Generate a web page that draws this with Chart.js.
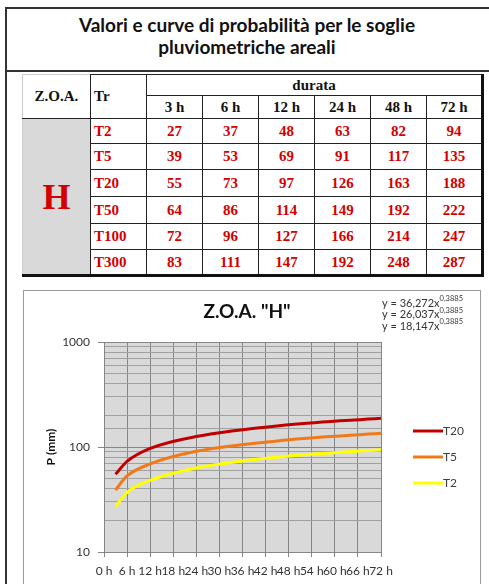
<!DOCTYPE html>
<html>
<head>
<meta charset="utf-8">
<script src="https://cdn.jsdelivr.net/npm/chart.js@4.4.0/dist/chart.umd.min.js"></script>
<style>
  html, body { margin: 0; padding: 0; background: #fff; }
  body { width: 489px; height: 584px; overflow: hidden; position: relative; font-family: Lato, "Noto Sans", sans-serif; }
  .frame { position: absolute; left: 5px; top: 7px; width: 484px; height: 620px; border-left: 2px solid #333; border-top: 2px solid #333; box-sizing: border-box; }
  .rule { position: absolute; left: 5px; top: 70px; width: 484px; height: 2px; background: #333; }
  .title { position: absolute; left: 5px; top: 14px; width: 484px; text-align: center; font-weight: bold; font-size: 19px; line-height: 22px; color: #111; }
  table { position: absolute; left: 22px; top: 74px; border-collapse: collapse; table-layout: fixed; width: 460px;
          font-family: "Liberation Serif", "DejaVu Serif", serif; font-weight: bold; font-size: 15px;
          border-right: 3px solid #111; border-bottom: 3px solid #111; }
  td { border: 1px solid #222; padding: 0; text-align: center; color: #d40000; }
  td.head { color: #111; }
  td.zoa { color: #111; border-left: 1px solid #ccc; border-top: 1px solid #ccc; }
  td.tr { text-align: left; padding-left: 3px; }
  td.trh { text-align: left; padding-left: 3px; vertical-align: middle; color: #111; }
  td.h { background: #d9d9d9; font-size: 36px; border-left: 1px solid #ccc; }
  .chartBox { position: absolute; left: 23px; top: 290px; width: 456px; height: 310px; border: 1px solid #9a9a9a; background: #fff; }
  canvas { display: block; }
</style>
</head>
<body>
<div class="frame"></div>
<div class="rule"></div>
<div class="title">Valori e curve di probabilità per le soglie<br>pluviometriche areali</div>
<table id="tab"></table>
<div class="chartBox"><canvas id="myChart" width="456" height="300"></canvas></div>
<script>
// table data
const zone = 'H';
const durations = ['3 h', '6 h', '12 h', '24 h', '48 h', '72 h'];
const hours = [3, 6, 12, 24, 48, 72];
const returnPeriods = ['T2', 'T5', 'T20', 'T50', 'T100', 'T300'];
const valuesT2 = [27, 37, 48, 63, 82, 94];
const valuesT5 = [39, 53, 69, 91, 117, 135];
const valuesT20 = [55, 73, 97, 126, 163, 188];
const valuesT50 = [64, 86, 114, 149, 192, 222];
const valuesT100 = [72, 96, 127, 166, 214, 247];
const valuesT300 = [83, 111, 147, 192, 248, 287];
const tableRows = [valuesT2, valuesT5, valuesT20, valuesT50, valuesT100, valuesT300];

// chart data
const yTicks = [10, 100, 1000];
const xStep = 6;
const xMax = 72;
const curveLabels = ['T20', 'T5', 'T2'];
const curveValues = [valuesT20, valuesT5, valuesT2];
const curveColors = ['#c00000', '#f07a1a', '#ffff00'];
const equationCoefs = ['36,272', '26,037', '18,147'];
const equationExp = '0,3885';

// build table
const tab = document.getElementById('tab');
const colW = [68, 56, 56, 56, 56, 56, 56, 56];
const rowH = [21, 23, 25, 26, 27, 27, 26, 26];
let html = '<colgroup>' + colW.map(w => `<col style="width:${w}px">`).join('') + '</colgroup>';
html += `<tr style="height:${rowH[0]}px"><td class="head zoa" rowspan="2">Z.O.A.</td><td class="trh" rowspan="2">Tr</td><td class="head" colspan="6">durata</td></tr>`;
html += `<tr style="height:${rowH[1]}px">` + durations.map(d => `<td class="head">${d}</td>`).join('') + '</tr>';
tableRows.forEach((row, i) => {
  html += `<tr style="height:${rowH[i + 2]}px">`;
  if (i === 0) html += `<td class="h" rowspan="6">${zone}</td>`;
  html += `<td class="tr">${returnPeriods[i]}</td>` + row.map(v => `<td>${v}</td>`).join('') + '</tr>';
});
tab.innerHTML = html;

const FONT = 'Lato, "Noto Sans", sans-serif';

const decorations = {
  id: 'decorations',
  beforeDraw(chart) {
    const { ctx, chartArea: a } = chart;
    ctx.save();
    ctx.fillStyle = '#d9d9d9';
    ctx.fillRect(a.left, a.top, a.right - a.left, a.bottom - a.top);
    ctx.restore();
  },
  afterDraw(chart) {
    const { ctx } = chart;
    ctx.save();
    // title
    ctx.fillStyle = '#111';
    ctx.font = 'bold 19px ' + FONT;
    ctx.textAlign = 'center';
    ctx.textBaseline = 'middle';
    ctx.fillText('Z.O.A. "' + zone + '"', 223, 21);
    // trendline equations
    ctx.textAlign = 'left';
    equationCoefs.forEach((c, i) => {
      const y = 12 + i * 11.5;
      ctx.font = '11px ' + FONT;
      ctx.fillStyle = '#333';
      const t = 'y = ' + c + 'x';
      ctx.fillText(t, 358, y);
      const w = ctx.measureText(t).width;
      ctx.font = '7.5px ' + FONT;
      ctx.fillText(equationExp, 358 + w, y - 4);
    });
    // legend
    ctx.font = '12px ' + FONT;
    ctx.fillStyle = '#404040';
    chart.data.datasets.forEach((ds, i) => {
      const y = 140 + i * 26;
      ctx.strokeStyle = ds.borderColor;
      ctx.lineWidth = 3;
      ctx.beginPath();
      ctx.moveTo(389, y);
      ctx.lineTo(419, y);
      ctx.stroke();
      ctx.fillText(ds.label, 419, y);
    });
    ctx.restore();
  }
};

const isDecade = v => yTicks.includes(v);

new Chart(document.getElementById('myChart').getContext('2d'), {
  type: 'line',
  data: {
    datasets: curveLabels.map((label, i) => ({
      label,
      data: hours.map((h, j) => ({ x: h, y: curveValues[i][j] })),
      borderColor: curveColors[i],
      backgroundColor: curveColors[i],
      borderWidth: 3,
      pointRadius: 0,
      cubicInterpolationMode: 'monotone',
      fill: false
    }))
  },
  options: {
    responsive: false,
    devicePixelRatio: 1,
    animation: false,
    layout: { padding: { left: 16, right: 99, top: 51, bottom: 0 } },
    plugins: { legend: { display: false }, tooltip: { enabled: false } },
    scales: {
      x: {
        type: 'linear',
        min: 0,
        max: xMax,
        afterFit(scale) { scale.height = 39; },
        ticks: {
          stepSize: xStep,
          autoSkip: false,
          maxRotation: 0,
          padding: 7,
          color: '#333',
          font: { family: FONT, size: 12 },
          callback: v => v + ' h'
        },
        grid: { color: '#868686', tickColor: '#868686', tickLength: 5 },
        border: { color: '#868686' }
      },
      y: {
        type: 'logarithmic',
        min: 10,
        max: 1000,
        afterFit(scale) { scale.width = 64; },
        ticks: {
          autoSkip: false,
          padding: 8,
          color: '#333',
          font: { family: FONT, size: 12 },
          callback: v => (isDecade(v) ? String(v) : '')
        },
        grid: {
          color: ctx => (ctx.tick && isDecade(ctx.tick.value) ? '#868686' : '#a0a0a0'),
          tickColor: ctx => (ctx.tick && isDecade(ctx.tick.value) ? '#868686' : 'rgba(0,0,0,0)'),
          tickLength: 6
        },
        border: { color: '#868686' },
        title: { display: true, text: 'P (mm)', color: '#111', font: { family: FONT, size: 12, weight: 'bold' } }
      }
    }
  },
  plugins: [decorations]
});
</script>
</body>
</html>
